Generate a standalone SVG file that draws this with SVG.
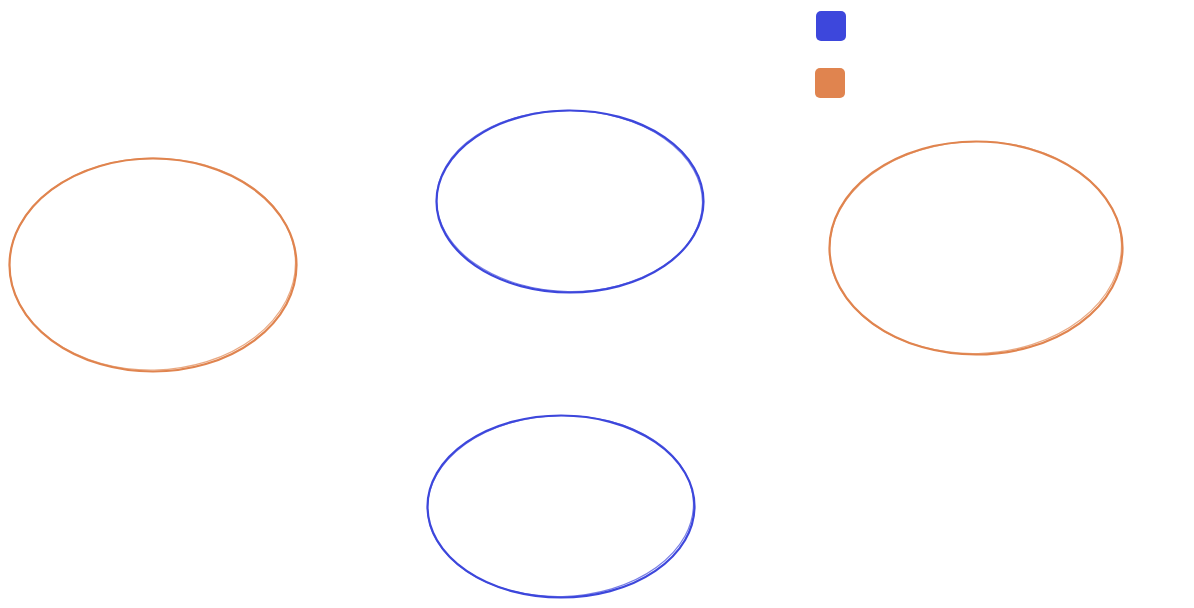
<svg xmlns="http://www.w3.org/2000/svg" width="1194" height="608" viewBox="0 0 1194 608">
<style>
.blue{fill:none;stroke:#3d47dc;stroke-width:2.2}
.orange{fill:none;stroke:#e0844f;stroke-width:2.2}
.b2{fill:none;stroke:#3d47dc;stroke-width:1.2;opacity:0.7}
.o2{fill:none;stroke:#e0844f;stroke-width:1.2;opacity:0.7}
</style>
<rect width="1194" height="608" fill="#ffffff"/>
<g id="legend">
<rect x="816" y="11" width="30" height="30" rx="5" fill="#3d47dc"/>
<rect x="815" y="68" width="30" height="30" rx="5" fill="#e0844f"/>
</g>
<g id="node-left">
<ellipse class="orange" cx="153" cy="265" rx="143.5" ry="106.5"/>
<ellipse class="o2" cx="152.5" cy="264" rx="143" ry="106" transform="rotate(-1 153 265)"/>
</g>
<g id="node-top">
<ellipse class="blue" cx="570" cy="201.5" rx="133.5" ry="91"/>
<ellipse class="b2" cx="569.5" cy="201" rx="133" ry="90.5" transform="rotate(1 570 201)"/>
</g>
<g id="node-right">
<ellipse class="orange" cx="976" cy="248" rx="146.5" ry="106.5"/>
<ellipse class="o2" cx="975.5" cy="247.5" rx="146" ry="106" transform="rotate(-1.5 976 248)"/>
</g>
<g id="node-bottom">
<ellipse class="blue" cx="561" cy="506.5" rx="133.5" ry="91"/>
<ellipse class="b2" cx="560.5" cy="506" rx="133" ry="90.5" transform="rotate(-1.5 561 506)"/>
</g>
<g id="connectors"></g>
</svg>
